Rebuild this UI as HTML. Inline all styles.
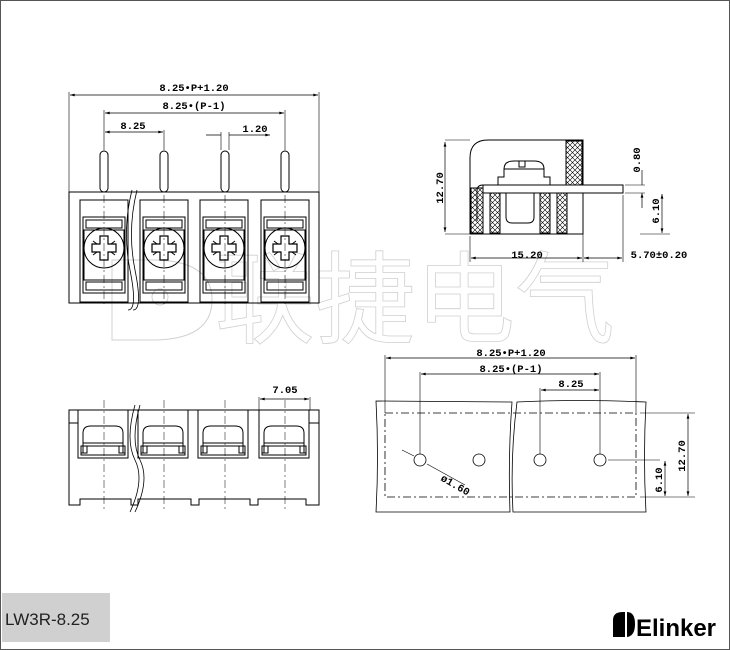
<!DOCTYPE html>
<html><head><meta charset="utf-8"><style>
html,body{margin:0;padding:0;background:#fff}
svg{display:block}
.t{font-family:"Liberation Mono",monospace;font-weight:bold;font-size:10.5px;fill:#000}
</style></head><body>
<svg width="730" height="650" viewBox="0 0 730 650" xmlns="http://www.w3.org/2000/svg">
<defs>
<marker id="a" viewBox="0 0 10 6" refX="10" refY="3" markerWidth="8" markerHeight="4" orient="auto-start-reverse"><path d="M0,0L10,3L0,6z" fill="#000"/></marker>
<pattern id="h" width="5" height="5" patternUnits="userSpaceOnUse"><path d="M0,0L5,5M5,0L0,5" stroke="#000" stroke-width="0.6"/></pattern>
<g id="cell" fill="none" stroke="#000" stroke-width="1">
 <rect x="0" y="0" width="48" height="102"/>
 <rect x="3" y="17" width="42" height="76"/>
 <rect x="6" y="20" width="36" height="8"/>
 <rect x="6" y="82" width="36" height="8"/>
 <rect x="4" y="30" width="40" height="50"/>
 <circle cx="24" cy="48" r="20"/>
 <path d="M20,36h8v8h8v8h-8v8h-8v-8h-8v-8h8z" stroke-width="1.2"/>
 <path d="M13,41l4,3M35,41l-4,3M13,55l4,-3M35,55l-4,-3"/>
</g>
<g id="bcell" fill="none" stroke="#000" stroke-width="1">
 <rect x="0" y="0" width="50" height="48"/>
 <path d="M5,43v-20q0,-7,8,-7h24q8,0,8,7v20"/>
 <path d="M5,33h40M3,36h44v9h-44z"/>
 <rect x="3" y="36" width="6" height="7"/><rect x="41" y="36" width="6" height="7"/>
</g>
</defs>
<rect x="0.5" y="0.5" width="729" height="649" fill="none" stroke="#555"/>

<!-- watermark -->
<g font-family="'Noto Sans CJK SC',sans-serif" font-size="100" fill="none" stroke="#d0d0d0" stroke-width="0.8">
<text x="215" y="335">联捷电气</text>
</g>
<path d="M112,340V260h40q60,0,60,40t-60,40z" fill="none" stroke="#d0d0d0"/>
<circle cx="160" cy="297" r="8" fill="none" stroke="#d0d0d0"/>

<!-- top view -->
<g stroke="#000" fill="none" stroke-width="1">
 <rect x="69" y="192" width="250" height="111"/>
 <g fill="#fff"><rect x="100" y="151" width="8" height="41" rx="4"/><rect x="160" y="151" width="8" height="41" rx="4"/><rect x="221" y="151" width="8" height="41" rx="4"/><rect x="281" y="151" width="8" height="41" rx="4"/></g>
 <use href="#cell" x="80" y="200"/><use href="#cell" x="140" y="200"/><use href="#cell" x="200" y="200"/><use href="#cell" x="261" y="200"/>
 <path d="M69,92V192M319,92V192M104,110V150M285,110V150M164,130V150M221,132V150M229,132V150" stroke-width="0.6"/>
 <path d="M70,95H318" marker-start="url(#a)" marker-end="url(#a)" stroke-width="0.7"/>
 <path d="M105,113H284" marker-start="url(#a)" marker-end="url(#a)" stroke-width="0.7"/>
 <path d="M105,132H163" marker-start="url(#a)" marker-end="url(#a)" stroke-width="0.7"/>
 <path d="M206,135H221M244,135H229M229,135H270" marker-end="url(#a)" stroke-width="0.7"/>
 <path d="M104,195V305M164,195V305M225,195V305M285,195V305" stroke-dasharray="8,3,2,3" stroke-width="0.5"/>
 <path d="M132,190q-10,40,-2,80t-2,40M137,190q-10,40,-2,80t-2,40" stroke-width="0.8"/>
</g>
<text class="t" x="194" y="91" text-anchor="middle">8.25•P+1.20</text>
<text class="t" x="194" y="109" text-anchor="middle">8.25•(P-1)</text>
<text class="t" x="133" y="129" text-anchor="middle">8.25</text>
<text class="t" x="255" y="132" text-anchor="middle">1.20</text>

<!-- side view -->
<g stroke="#000" fill="none" stroke-width="1">
 <path d="M470,234V158q0,-18,18,-18H583V234z"/>
 <rect x="566" y="141" width="16" height="46" fill="url(#h)"/>
 <rect x="471" y="188" width="12" height="45" fill="url(#h)"/>
 <rect x="490" y="192" width="10" height="41" fill="url(#h)"/>
 <rect x="540" y="192" width="10" height="41" fill="url(#h)"/>
 <rect x="557" y="192" width="10" height="41" fill="url(#h)"/>
 <path d="M498,185v-8h6v-8q0,-8,10,-8h20q10,0,10,8v8h6v8"/>
 <path d="M504,169h40M519,161v6h6v-6"/>
 <path d="M506,192v25q0,6,6,6h16q6,0,6,-6v-25"/>
 <rect x="483" y="185" width="140" height="8" fill="#fff"/>
 <path d="M483,185q-6,0,-6,6v30" />
 <path d="M445,140h25M445,234h25M583,234V262M470,236V262M623,195V262M625,185h20M625,193h20M640,234h30" stroke-width="0.6"/>
 <path d="M445,142V232" marker-start="url(#a)" marker-end="url(#a)" stroke-width="0.7"/>
 <path d="M471,258H582" marker-start="url(#a)" marker-end="url(#a)" stroke-width="0.7"/>
 <path d="M584,258H622" marker-start="url(#a)" marker-end="url(#a)" stroke-width="0.7"/>
 <path d="M642,170V185M642,208V193" marker-end="url(#a)" stroke-width="0.7"/>
 <path d="M662,194V233" marker-start="url(#a)" marker-end="url(#a)" stroke-width="0.7"/>
</g>
<text class="t" transform="translate(443,188) rotate(-90)" text-anchor="middle">12.70</text>
<text class="t" x="527" y="258" text-anchor="middle">15.20</text>
<text class="t" x="659" y="258" text-anchor="middle">5.70±0.20</text>
<text class="t" transform="translate(640,160) rotate(-90)" text-anchor="middle">0.80</text>
<text class="t" transform="translate(659,211) rotate(-90)" text-anchor="middle">6.10</text>

<!-- bottom-left view -->
<g stroke="#000" fill="none" stroke-width="1">
 <path d="M69,410H319V505H306v-6H258v6H250v-6H199v6H191v-6H138v6H131v-6H80v6H69z"/>
 <use href="#bcell" x="78" y="410"/><use href="#bcell" x="138" y="410"/><use href="#bcell" x="198" y="410"/><use href="#bcell" x="259" y="410"/>
 <path d="M69,410v13h9M319,410v13h-10" />
 <path d="M259,397V410M310,397V410" stroke-width="0.6"/>
 <path d="M260,399H309" marker-start="url(#a)" marker-end="url(#a)" stroke-width="0.7"/>
 <path d="M104,400V512M164,400V512M225,400V512M285,400V512" stroke-dasharray="8,3,2,3" stroke-width="0.5"/>
 <path d="M135,405q-10,35,0,55t-5,52M140,405q-10,35,0,55t-5,52" stroke-width="0.8"/>
</g>
<text class="t" x="285" y="393" text-anchor="middle">7.05</text>

<!-- bottom-right -->
<g stroke="#000" fill="none" stroke-width="0.8">
 <path d="M376,401L512,402q-4,55,-2,110L376,512q3,-55,0,-111z"/>
 <path d="M517,402q60,-3,129,0q-3,55,0,110L513,512q-3,-55,4,-110z"/>
 <rect x="385" y="413" width="251" height="84" stroke-dasharray="8,3,2,3"/>
 <circle cx="420" cy="460" r="6"/><circle cx="479" cy="460" r="6"/><circle cx="540" cy="460" r="6"/><circle cx="600" cy="460" r="6"/>
 <path d="M385,355V413M636,355V413M420,372V454M600,372V454M540,388V454M608,460H660M640,413H695M640,497H695" stroke-width="0.6"/>
 <path d="M386,358H635" marker-start="url(#a)" marker-end="url(#a)" stroke-width="0.7"/>
 <path d="M421,374H599" marker-start="url(#a)" marker-end="url(#a)" stroke-width="0.7"/>
 <path d="M541,390H599" marker-start="url(#a)" marker-end="url(#a)" stroke-width="0.7"/>
 <path d="M688,414V496" marker-start="url(#a)" marker-end="url(#a)" stroke-width="0.7"/>
 <path d="M665,461V496" marker-start="url(#a)" marker-end="url(#a)" stroke-width="0.7"/>
 <path d="M402,450L414,456M427,464L465,485" stroke-width="0.6"/>
</g>
<text class="t" x="511" y="356" text-anchor="middle">8.25•P+1.20</text>
<text class="t" x="511" y="372" text-anchor="middle">8.25•(P-1)</text>
<text class="t" x="571" y="387" text-anchor="middle">8.25</text>
<text class="t" transform="translate(440,480) rotate(30)">ø1.60</text>
<text class="t" transform="translate(685,456) rotate(-90)" text-anchor="middle">12.70</text>
<text class="t" transform="translate(662,480) rotate(-90)" text-anchor="middle">6.10</text>

<!-- footer -->
<rect x="2" y="593" width="108" height="49" fill="#d0d0d0"/>
<text x="5" y="625" font-family="'Liberation Sans',sans-serif" font-size="17" fill="#222">LW3R-8.25</text>
<path d="M613,637V620q0,-8,10,-8h2v25z" fill="#000"/>
<path d="M627,612q8,0,8,12t-8,13z" fill="#000"/>
<text x="636" y="636" font-family="'Liberation Sans',sans-serif" font-weight="bold" font-size="24" fill="#000" textLength="80" lengthAdjust="spacingAndGlyphs">Elinker</text>
</svg>
</body></html>
